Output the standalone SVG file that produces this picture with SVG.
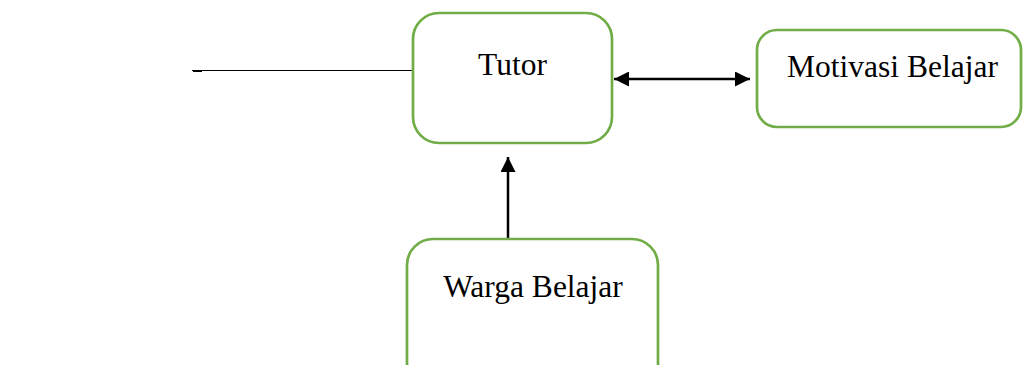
<svg xmlns="http://www.w3.org/2000/svg" width="1023" height="365" viewBox="0 0 1023 365">
<style>
.box{fill:#fff;stroke:#70AD47;stroke-width:2.7}
.lbl{font-family:"Liberation Serif","Times New Roman",serif;font-size:31.5px;fill:#000;text-anchor:middle}
.con{stroke:#000;fill:none}
</style>
<defs>
<marker id="ah" viewBox="0 0 10 10" refX="10" refY="5" markerWidth="6.5" markerHeight="6" markerUnits="strokeWidth" orient="auto-start-reverse">
<path d="M0,0 L10,5 L0,10 z" fill="#000"/>
</marker>
</defs>
<g id="connectors">
<line class="con" x1="192" y1="70.5" x2="413" y2="70.5" stroke-width="1"/>
<line class="con" x1="193" y1="71.5" x2="202" y2="71.5" stroke-width="1" stroke="#333"/>
<line class="con" x1="614" y1="79" x2="750" y2="79" stroke-width="2.5" marker-start="url(#ah)" marker-end="url(#ah)"/>
<line class="con" x1="508" y1="239" x2="508" y2="157" stroke-width="2.5" marker-end="url(#ah)"/>
</g>
<g id="tutor">
<rect class="box" x="413" y="13" width="199" height="130" rx="26"/>
<text class="lbl" x="512.5" y="75">Tutor</text>
</g>
<g id="motivasi">
<rect class="box" x="757" y="30" width="264" height="97" rx="20"/>
<text class="lbl" x="892.5" y="77">Motivasi Belajar</text>
</g>
<g id="warga">
<rect class="box" x="407" y="239" width="251" height="150" rx="26"/>
<text class="lbl" x="533" y="297">Warga Belajar</text>
</g>
</svg>
